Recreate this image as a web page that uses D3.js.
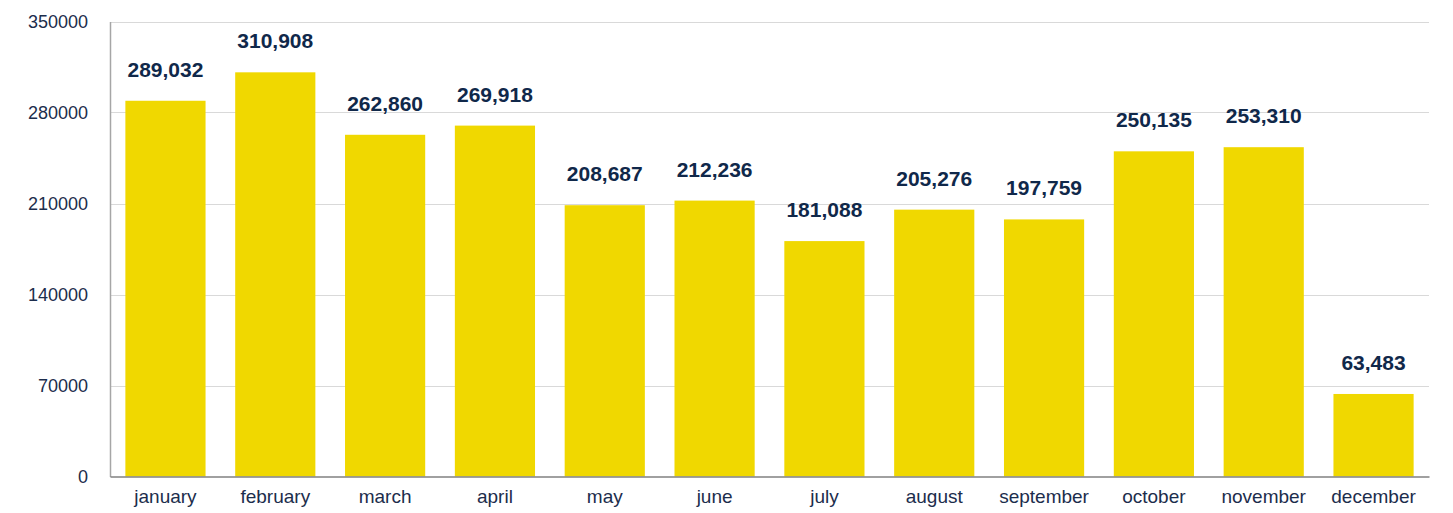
<!DOCTYPE html>
<html>
<head>
<meta charset="utf-8">
<script src="https://cdn.jsdelivr.net/npm/d3@7"></script>
<style>
  body { margin: 0; background: #fff; }
  svg text { font-family: "Liberation Sans", Arial, sans-serif; }
</style>
</head>
<body>
<div id="chart"></div>
<script>
const months = ['january', 'february', 'march', 'april', 'may', 'june', 'july', 'august', 'september', 'october', 'november', 'december'];
const visits = [289032, 310908, 262860, 269918, 208687, 212236, 181088, 205276, 197759, 250135, 253310, 63483];
const yTicks = [0, 70000, 140000, 210000, 280000, 350000];

function drawChart() {
    const width = 1453;
    const height = 513;
    const margin = {top: 21.5, right: 24, bottom: 36.5, left: 110};

    const svg = d3.select("#chart").append("svg")
        .attr("width", width)
        .attr("height", height)
        .attr("viewBox", [0, 0, width, height]);

    const x = d3.scaleBand()
        .domain(months)
        .range([margin.left, width - margin.right])
        .paddingInner(0.27)
        .paddingOuter(0.14);

    const y = d3.scaleLinear()
        .domain([0, 350000])
        .range([height - margin.bottom, margin.top]);

    // gridlines
    svg.append("g")
        .selectAll("line")
        .data(yTicks.slice(1))
        .join("line")
            .attr("x1", margin.left)
            .attr("x2", width - margin.right)
            .attr("y1", d => Math.round(y(d)) + 0.5)
            .attr("y2", d => Math.round(y(d)) + 0.5)
            .attr("stroke", "#d9d9d9")
            .attr("stroke-width", 1);

    // y axis
    const yAxis = svg.append("g")
        .attr("transform", `translate(${margin.left},0)`)
        .call(d3.axisLeft(y).tickValues(yTicks).tickSize(0).tickPadding(22).tickFormat(d3.format("d")));
    yAxis.select(".domain").attr("stroke", "#a6a6a6").attr("stroke-width", 1.5);
    yAxis.selectAll("text")
        .attr("font-size", 18)
        .attr("fill", "#1c2d4c");

    // bars
    svg.append("g")
        .selectAll("rect")
        .data(visits)
        .join("rect")
            .attr("x", (d, i) => x(months[i]))
            .attr("y", d => y(d))
            .attr("width", x.bandwidth())
            .attr("height", d => y(0) - y(d))
            .attr("fill", "#f0d800");

    // x axis
    const xAxis = svg.append("g")
        .attr("transform", `translate(0,${y(0)})`)
        .call(d3.axisBottom(x).tickSize(0).tickPadding(13));
    xAxis.select(".domain").attr("stroke", "#808080").attr("stroke-width", 1.5);
    xAxis.selectAll("text")
        .attr("font-size", 19)
        .attr("fill", "#1c2d4c");

    // value labels
    svg.append("g")
        .selectAll("text")
        .data(visits)
        .join("text")
            .attr("x", (d, i) => x(months[i]) + x.bandwidth() / 2)
            .attr("y", d => y(d) - 24)
            .attr("text-anchor", "middle")
            .attr("font-size", 21)
            .attr("font-weight", "bold")
            .attr("fill", "#10284a")
            .text(d => d3.format(",")(d));
}

drawChart();
</script>
</body>
</html>
